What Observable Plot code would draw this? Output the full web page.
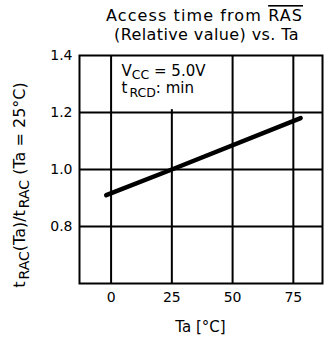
<!DOCTYPE html>
<html>
<head>
<meta charset="utf-8">
<script src="https://cdn.jsdelivr.net/npm/d3@7"></script>
<script src="https://cdn.jsdelivr.net/npm/@observablehq/plot@0.6"></script>
<style>
  html, body { margin: 0; padding: 0; background: #fff; }
  svg text { font-family: "DejaVu Sans", sans-serif; }
</style>
</head>
<body>
<div id="chart"></div>
<script>
// Data
const ta = [-2, 25, 78];              // Ta [°C]
const ratio = [0.91, 1.0, 1.18];      // tRAC(Ta)/tRAC(Ta=25°C)
const xTicks = [0, 25, 50, 75];
const yTicks = [0.8, 1.0, 1.2, 1.4];
const gridY = [0.8, 1.0, 1.2];
const gridXFull = [0, 50, 75];
const gridXPartial = [25];
const titleLines = ["Access time from ", "RAS", "(Relative value) vs. Ta"];
const xLabel = "Ta [°C]";

const pts = ta.map((t, i) => ({ta: t, r: ratio[i]}));

const plot = Plot.plot({
  width: 325,
  height: 343,
  marginLeft: 79,
  marginRight: 3,
  marginTop: 55,
  marginBottom: 60,
  style: {fontFamily: "DejaVu Sans, sans-serif", fontSize: "14px", color: "black", background: "white"},
  x: {domain: [-13, 87]},
  y: {domain: [0.6, 1.4]},
  marks: [
    Plot.ruleY(gridY, {stroke: "black", strokeWidth: 2}),
    Plot.ruleX(gridXFull, {stroke: "black", strokeWidth: 2}),
    Plot.ruleX(gridXPartial, {y1: 0.6, y2: 1.21, stroke: "black", strokeWidth: 2}),
    Plot.frame({stroke: "black", strokeWidth: 2}),
    Plot.line(pts, {x: "ta", y: "r", stroke: "black", strokeWidth: 4.5}),
    Plot.axisY({ticks: yTicks, tickSize: 0, tickPadding: 7, tickFormat: d => d.toFixed(1), label: null, fill: "black"}),
    Plot.axisX({ticks: xTicks, tickSize: 0, tickPadding: 9, label: null, fill: "black"})
  ]
});
document.getElementById("chart").appendChild(plot);

const svg = d3.select(plot);
const xsp = plot.scale("x"), ysp = plot.scale("y");
const xs = d3.scaleLinear(xsp.domain, xsp.range);
const ys = d3.scaleLinear(ysp.domain, ysp.range);
const cx = (xsp.range[0] + xsp.range[1]) / 2;

// Title
const t1 = svg.append("text").attr("x", cx + 4).attr("y", 21).attr("text-anchor", "middle")
  .attr("font-size", 16).attr("letter-spacing", 1.1).attr("fill", "black");
t1.append("tspan").text(titleLines[0]);
t1.append("tspan").style("text-decoration", "overline").text(titleLines[1]);
svg.append("text").attr("x", cx + 6).attr("y", 39.5).attr("text-anchor", "middle")
  .attr("font-size", 16).attr("letter-spacing", 0.4).attr("fill", "black").text(titleLines[2]);

// x label
svg.append("text").attr("x", cx).attr("y", 332).attr("text-anchor", "middle")
  .attr("font-size", 15).attr("fill", "black").text(xLabel);

// y label
const yl = svg.append("text")
  .attr("transform", `translate(25,185) rotate(-90)`)
  .attr("text-anchor", "middle").attr("font-size", 16).attr("fill", "black");
yl.append("tspan").text("t");
yl.append("tspan").attr("dx", 2).attr("dy", 4).attr("font-size", 14).text("RAC");
yl.append("tspan").attr("dy", -4).text("(Ta)/t");
yl.append("tspan").attr("dx", 2).attr("dy", 4).attr("font-size", 14).text("RAC");
yl.append("tspan").attr("dy", -4).text(" (Ta = 25°C)");

// Annotation
const ax = xs(4.5), ay1 = ys(1.325), ay2 = ys(1.265);
const a1 = svg.append("text").attr("x", ax).attr("y", ay1).attr("text-anchor", "start")
  .attr("font-size", 15).attr("fill", "black");
a1.append("tspan").text("V");
a1.append("tspan").attr("dy", 3).attr("font-size", 12.5).text("CC");
a1.append("tspan").attr("dy", -3).text(" = 5.0V");
const a2 = svg.append("text").attr("x", ax).attr("y", ay2).attr("text-anchor", "start")
  .attr("font-size", 15).attr("fill", "black");
a2.append("tspan").text("t");
a2.append("tspan").attr("dx", 2).attr("dy", 4).attr("font-size", 12.5).text("RCD");
a2.append("tspan").attr("dy", -4).text(": min");
</script>
</body>
</html>
